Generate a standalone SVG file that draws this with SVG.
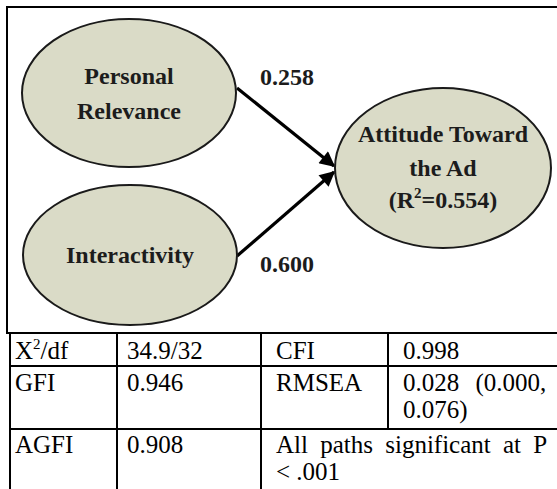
<svg xmlns="http://www.w3.org/2000/svg" width="557" height="489" viewBox="0 0 557 489">
<style>
.node{fill:#dadbc7;stroke:#1a1a1a;stroke-width:2}
.nt{font-family:"Liberation Serif","Times New Roman",serif;font-weight:bold;font-size:24px;fill:#1c1c1c;text-anchor:middle}
.lbl{font-family:"Liberation Serif","Times New Roman",serif;font-weight:bold;font-size:24px;fill:#1c1c1c}
.edge{stroke:#000;stroke-width:3.2;fill:none}
.grid{stroke:#000;stroke-width:2;fill:none}
.tt{font-family:"Liberation Serif","Times New Roman",serif;font-size:25px;fill:#000}
</style>
<defs>
<marker id="ah" viewBox="0 0 10 10" refX="9" refY="5" markerWidth="6" markerHeight="4.8" orient="auto" markerUnits="strokeWidth">
<path d="M0,0 L10,5 L0,10 z" fill="#000"/>
</marker>
</defs>
<rect width="557" height="489" fill="#fff"/>
<path class="grid" d="M557,7 H7 V333 H557" stroke-width="2.5"/>
<g id="connectors">
<line class="edge" x1="237" y1="88" x2="334" y2="166" marker-end="url(#ah)"/>
<line class="edge" x1="237" y1="256" x2="334" y2="172" marker-end="url(#ah)"/>
<text class="lbl" x="260" y="85">0.258</text>
<text class="lbl" x="260" y="272">0.600</text>
</g>
<g id="personal-relevance">
<ellipse class="node" cx="129" cy="93" rx="107" ry="74"/>
<text class="nt" x="129" y="84">Personal</text>
<text class="nt" x="129" y="119">Relevance</text>
</g>
<g id="interactivity">
<ellipse class="node" cx="130" cy="255" rx="107" ry="70"/>
<text class="nt" x="130" y="263">Interactivity</text>
</g>
<g id="attitude">
<ellipse class="node" cx="443" cy="168" rx="108" ry="80"/>
<text class="nt" x="443" y="142">Attitude Toward</text>
<text class="nt" x="443" y="176">the Ad</text>
<text class="nt" x="443" y="208">(R<tspan font-size="15" dy="-10">2</tspan><tspan dy="10">=0.554)</tspan></text>
</g>
<g id="table">
<path class="grid" d="M10,333 V489 M117,333 V489 M261,333 V489 M388,333 V429 M10,366 H557 M10,429 H557"/>
<text class="tt" x="15" y="359">X<tspan font-size="15" dy="-10">2</tspan><tspan dy="10">/df</tspan></text>
<text class="tt" x="127" y="359">34.9/32</text>
<text class="tt" x="276" y="359">CFI</text>
<text class="tt" x="403" y="359">0.998</text>
<text class="tt" x="15" y="391">GFI</text>
<text class="tt" x="127" y="391">0.946</text>
<text class="tt" x="276" y="391">RMSEA</text>
<text class="tt" x="403" y="391" word-spacing="10">0.028 (0.000,</text>
<text class="tt" x="403" y="418">0.076)</text>
<text class="tt" x="15" y="453">AGFI</text>
<text class="tt" x="127" y="453">0.908</text>
<text class="tt" x="276" y="453" word-spacing="6">All paths significant at P</text>
<text class="tt" x="276" y="480">&lt; .001</text>
</g>
</svg>
